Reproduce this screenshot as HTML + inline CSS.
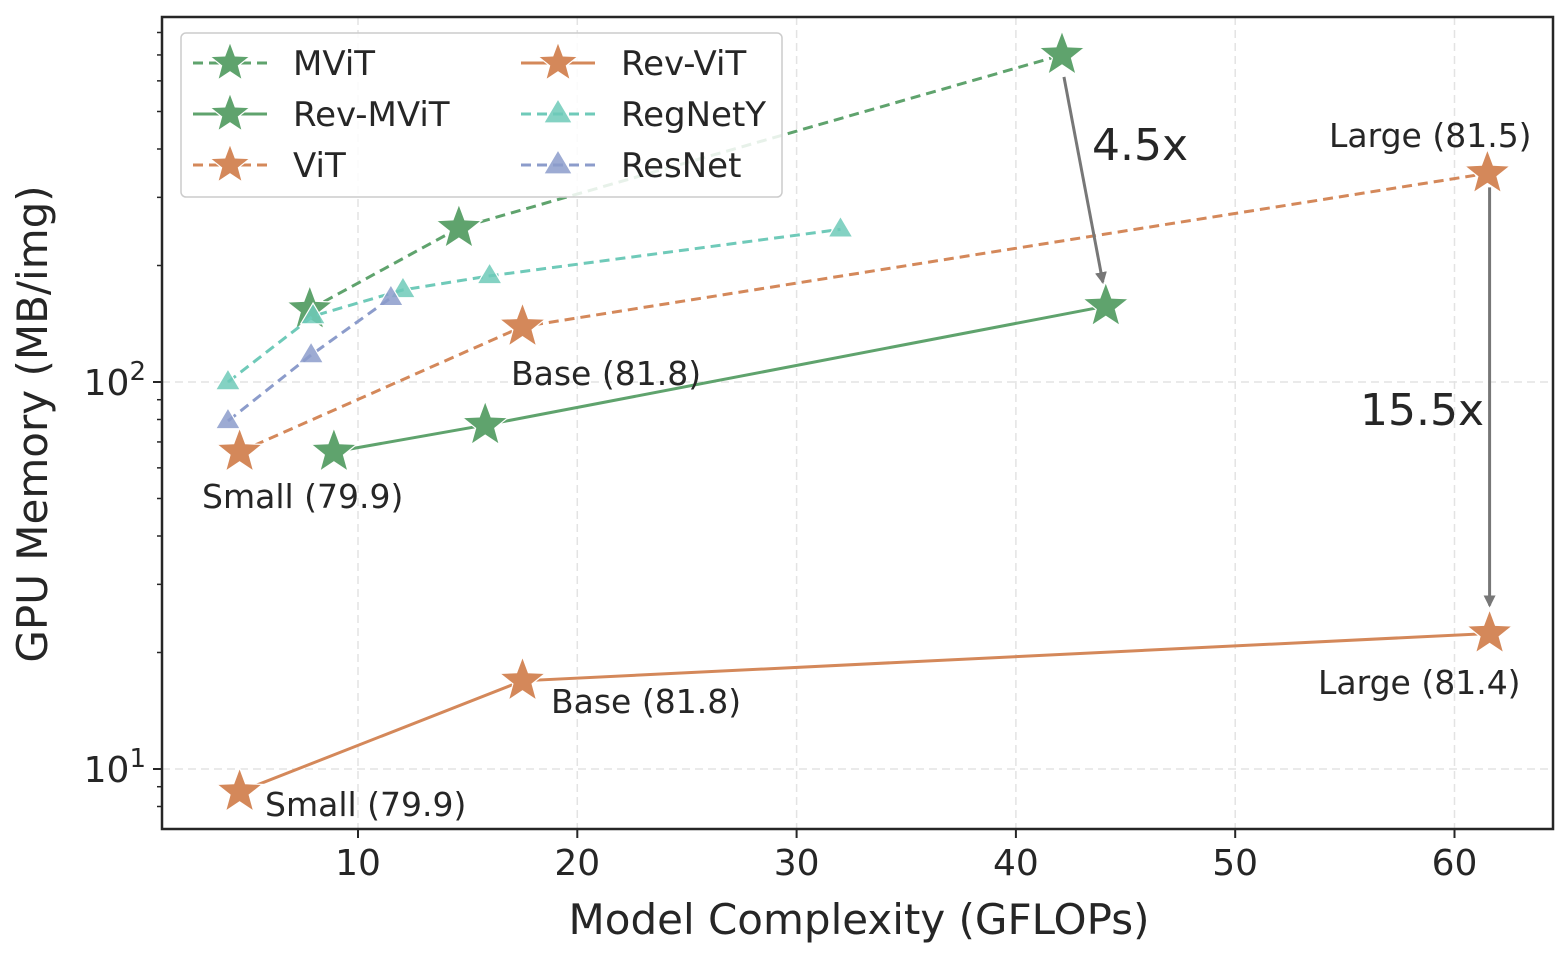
<!DOCTYPE html>
<html><head><meta charset="utf-8"><style>
body{margin:0;background:#fff}
svg text{font-family:"DejaVu Sans","Liberation Sans",sans-serif;fill:#262626}
</style></head><body>
<svg id="chart" width="1565" height="949" viewBox="0 0 1565 949" xmlns="http://www.w3.org/2000/svg">
<g id="grid"></g><g id="axes"></g><g id="series"></g><g id="ann"></g><g id="legend"></g>
</svg>
<script>
const xTicks=[10,20,30,40,50,60];
const yMajor=[10,100];
const mvitX=[7.8,14.6,42.1], mvitY=[154,250,700];
const revMvitX=[8.9,15.8,44.1], revMvitY=[66,77.4,157];
const vitX=[4.6,17.5,61.5], vitY=[66,139,346];
const revVitX=[4.6,17.5,61.6], revVitY=[8.73,16.9,22.4];
const regX=[4.07,7.95,12.05,16.0,32.0], regY=[100,148,173,188,248];
const resX=[4.07,7.86,11.5], resY=[79.3,117.4,165];

const NS="http://www.w3.org/2000/svg";
const L=162,R=1553,T=17,B=829;
const sx=v=>138.7+v*21.93;
const sy=v=>382-(Math.log10(v)-2)*387;
function mk(tag,attrs,parent){const e=document.createElementNS(NS,tag);for(const k in attrs)e.setAttribute(k,attrs[k]);parent.appendChild(e);return e;}
const grid=document.getElementById('grid'),axes=document.getElementById('axes'),ser=document.getElementById('series'),ann=document.getElementById('ann'),leg=document.getElementById('legend');
const DASH='10,6';
xTicks.forEach(t=>{
 const g=mk('line',{x1:sx(t),x2:sx(t),y1:T,y2:B,stroke:'#e3e3e3','stroke-width':1.5,'stroke-dasharray':'8,5'},grid);
 
 const k=mk('line',{x1:sx(t),x2:sx(t),y1:B,y2:B+9,stroke:'#262626','stroke-width':2},axes);
 
 const tx=mk('text',{x:sx(t),y:B+46,'font-size':36,'text-anchor':'middle'},axes);tx.textContent=t;
 
});
yMajor.forEach(t=>{
 const g=mk('line',{x1:L,x2:R,y1:sy(t),y2:sy(t),stroke:'#e3e3e3','stroke-width':1.5,'stroke-dasharray':'8,5'},grid);
 
 const k=mk('line',{x1:L-9,x2:L,y1:sy(t),y2:sy(t),stroke:'#262626','stroke-width':2},axes);
 
 const tx=mk('text',{x:L-16,y:sy(t)+13,'font-size':36,'text-anchor':'end'},axes);
 tx.innerHTML='10<tspan dy="-15" font-size="26">'+Math.round(Math.log10(t))+'</tspan>';
 
});
[8,9,20,30,40,50,60,70,80,90,200,300,400,500,600,700,800].forEach(t=>{
 const y=sy(t);if(y<T||y>B)return;
 const k=mk('line',{x1:L-5,x2:L,y1:y,y2:y,stroke:'#262626','stroke-width':1.5},axes);
 
});
const fr=mk('rect',{x:L,y:T,width:R-L,height:B-T,fill:'none',stroke:'#262626','stroke-width':2.5},axes);

let xl=mk('text',{x:859,y:934,'font-size':42,'text-anchor':'middle'},axes);xl.textContent='Model Complexity (GFLOPs)';

let yl=mk('text',{x:0,y:0,'font-size':42,'text-anchor':'middle',transform:'translate(47,424) rotate(-90)'},axes);yl.textContent='GPU Memory (MB/img)';


function star(cx,cy,r){let p=[];for(let i=0;i<10;i++){const a=-Math.PI/2+i*Math.PI/5;const rr=i%2?r*0.42:r;p.push((cx+rr*Math.cos(a)).toFixed(1)+','+(cy+rr*Math.sin(a)).toFixed(1));}return p.join(' ');}
function tri(cx,cy,r){return [cx+','+(cy-r),(cx+r*0.95)+','+(cy+r*0.6),(cx-r*0.95)+','+(cy+r*0.6)].join(' ');}
function marker(type,cx,cy,color,parent,name,r){
 const e=mk('polygon',{points:type==='star'?star(cx,cy,r||24):tri(cx,cy,r||13),fill:color,stroke:'#fff','stroke-width':1.2,'fill-opacity':type==='star'?1:0.85},parent);
 
}
const series=[
 {n:'mvit',x:mvitX,y:mvitY,c:'#5fa36d',d:DASH,m:'star'},
 {n:'regnety',x:regX,y:regY,c:'#6fcab9',d:DASH,m:'tri'},
 {n:'resnet',x:resX,y:resY,c:'#8c9ccb',d:DASH,m:'tri'},
 {n:'vit',x:vitX,y:vitY,c:'#d4885a',d:DASH,m:'star'},
 {n:'rev-mvit',x:revMvitX,y:revMvitY,c:'#5fa36d',d:'',m:'star'},
 {n:'rev-vit',x:revVitX,y:revVitY,c:'#d4885a',d:'',m:'star'},
];
series.forEach(s=>{
 const g=mk('g',{},ser);
 const pts=s.x.map((v,i)=>sx(v)+','+sy(s.y[i])).join(' ');
 const pl=mk('polyline',{points:pts,fill:'none',stroke:s.c,'stroke-width':3,'stroke-dasharray':s.d},g);
 
 s.x.forEach((v,i)=>marker(s.m,sx(v),sy(s.y[i]),s.c,g,s.n+'-point'));
});
const defs=mk('defs',{},ann);
const m=mk('marker',{id:'ah',markerWidth:12,markerHeight:12,refX:10,refY:6,orient:'auto',markerUnits:'userSpaceOnUse'},defs);
mk('path',{d:'M0,0 L12,6 L0,12 Z',fill:'#777'},m);
function arrow(x1,y1,x2,y2,n){const a=mk('line',{x1,y1,x2,y2,stroke:'#777','stroke-width':3,'marker-end':'url(#ah)'},ann);}
arrow(sx(42.1)+2,sy(700)+22,sx(44.1)-3,sy(157)-24,'arrow-4-5x');
arrow(sx(61.6),sy(346)+14,sx(61.6),sy(22.4)-28,'arrow-15-5x');
function txt(x,y,s,fs,n,anchor){const t=mk('text',{x,y,'font-size':fs,'text-anchor':anchor||'start'},ann);t.textContent=s;}
txt(1092,160,'4.5x',44,'ratio-label-4-5x');
txt(1360,425,'15.5x',44,'ratio-label-15-5x');
txt(1329,147,'Large (81.5)',33,'vit-large-label');
txt(511,385,'Base (81.8)',33,'vit-base-label');
txt(202,508,'Small (79.9)',33,'vit-small-label');
txt(1318,694,'Large (81.4)',33,'rev-vit-large-label');
txt(551,713,'Base (81.8)',33,'rev-vit-base-label');
txt(265,816,'Small (79.9)',33,'rev-vit-small-label');
const lb=mk('rect',{x:181,y:33,width:601,height:164,rx:5,fill:'#fff','fill-opacity':0.85,stroke:'#ccc','stroke-width':1.5},leg);

const entries=[
 ['MViT','#5fa36d',DASH,'star',193,63],['Rev-MViT','#5fa36d','','star',193,114],['ViT','#d4885a',DASH,'star',193,165],
 ['Rev-ViT','#d4885a','','star',521,63],['RegNetY','#6fcab9',DASH,'tri',521,114],['ResNet','#8c9ccb',DASH,'tri',521,165]];
entries.forEach(e=>{
 const g=mk('g',{},leg);
 const l=mk('line',{x1:e[4],x2:e[4]+74,y1:e[5],y2:e[5],stroke:e[1],'stroke-width':3,'stroke-dasharray':e[2]},g);
 
 marker(e[3],e[4]+37,e[5],e[1],g,'legend-marker',e[3]==='star'?21:15);
 const t=mk('text',{x:e[4]+100,y:e[5]+12,'font-size':34},g);t.textContent=e[0];
 
});
</script>
</body></html>
